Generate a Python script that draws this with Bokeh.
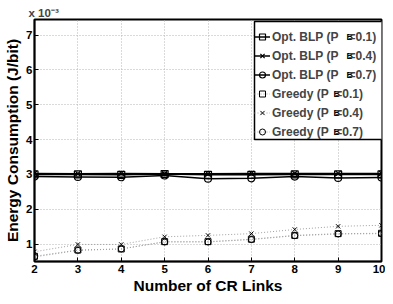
from bokeh.plotting import figure
from bokeh.models import Legend, LegendItem, Label, FixedTicker, Range1d, BoxAnnotation
from bokeh.embed import file_html
from bokeh.resources import INLINE

x_links = [2, 3, 4, 5, 6, 7, 8, 9, 10]
opt_01 = [3.00, 3.00, 2.99, 3.01, 2.99, 2.99, 3.00, 3.00, 3.00]
opt_04 = [3.03, 3.02, 3.03, 3.02, 3.02, 3.03, 3.03, 3.03, 3.03]
opt_07 = [2.94, 2.93, 2.92, 2.97, 2.88, 2.89, 2.94, 2.90, 2.91]
greedy_01 = [0.65, 0.83, 0.86, 1.07, 1.07, 1.14, 1.25, 1.30, 1.31]
greedy_04 = [0.78, 0.99, 0.99, 1.21, 1.25, 1.30, 1.42, 1.51, 1.54]
greedy_07 = [0.63, 0.82, 0.86, 1.06, 1.06, 1.13, 1.24, 1.29, 1.30]
x_ticks = [2, 3, 4, 5, 6, 7, 8, 9, 10]
y_ticks = [1, 2, 3, 4, 5, 6, 7]

FONT = "Liberation Sans"
NB = "\u00a0"
opt_labels = ["Opt. BLP (P" + NB * 3 + "=0.1)", "Opt. BLP (P" + NB * 3 + "=0.4)", "Opt. BLP (P" + NB * 3 + "=0.7)"]
greedy_labels = ["Greedy (P" + NB * 2 + "=0.1)", "Greedy (P" + NB * 2 + "=0.4)", "Greedy (P" + NB * 2 + "=0.7)"]

p = figure(width=385, height=296, output_backend="svg", toolbar_location=None,
           x_range=Range1d(2, 10), y_range=Range1d(0.5, 7.45),
           min_border_left=34, min_border_right=4, min_border_top=19, min_border_bottom=31)
p.background_fill_color = "white"
p.border_fill_color = "white"
p.outline_line_color = "black"
p.outline_line_width = 2

for ax in (p.xaxis[0], p.yaxis[0]):
    ax.major_tick_in = 4
    ax.major_tick_out = 0
    ax.minor_tick_line_color = None
    ax.axis_line_width = 1.5
    ax.major_tick_line_color = "black"
    ax.major_label_text_font = FONT
    ax.major_label_text_font_style = "bold"
    ax.major_label_text_font_size = "11.5px"
    ax.major_label_text_color = "black"
    ax.axis_label_text_font = FONT
    ax.axis_label_text_font_style = "bold"
    ax.axis_label_text_font_size = "15.5px"
    ax.axis_label_text_color = "black"
p.xaxis.ticker = FixedTicker(ticks=x_ticks)
p.yaxis.ticker = FixedTicker(ticks=y_ticks)
p.xaxis.axis_label = "Number of CR Links"
p.yaxis.axis_label = "Energy Consumption (J/bit)"
p.xaxis.major_label_standoff = 3
p.xaxis.axis_label_standoff = 1
p.yaxis.major_label_standoff = 2
p.yaxis.axis_label_standoff = 2

for g in (p.xgrid[0], p.ygrid[0]):
    g.grid_line_color = "#b4b4b4"
    g.grid_line_dash = "1 2"
    g.grid_line_width = 1

items = []
markers = ["square", "x", "circle"]
for ys, mk, lab in zip([opt_01, opt_04, opt_07], markers, opt_labels):
    r = p.line(x_links, ys, line_color="black", line_width=1.5)
    s = p.scatter(x_links, ys, marker=mk, size=7, fill_color=None, line_color="black", line_width=1.2)
    items.append(LegendItem(label=lab, renderers=[r, s]))
for ys, mk, lab in zip([greedy_01, greedy_04, greedy_07], markers, greedy_labels):
    r = p.line(x_links, ys, line_color="#a0a0a0", line_width=1, line_dash="1 2")
    s = p.scatter(x_links, ys, marker=mk, size=6, fill_color=None, line_color="black", line_width=1)
    items.append(LegendItem(label=lab, renderers=[r, s]))

# white box behind the (transparent) legend
p.add_layout(BoxAnnotation(left=220, right=348, bottom=122, top=240,
                           left_units="screen", right_units="screen",
                           bottom_units="screen", top_units="screen",
                           fill_color="white", fill_alpha=1, line_color="black", line_width=1.5,
                           line_alpha=1))

legend = Legend(items=items, location=(220, 122), padding=4, spacing=4,
                label_height=15, glyph_height=15, glyph_width=16, label_standoff=2,
                label_text_font=FONT, label_text_font_style="bold", label_text_font_size="12px",
                border_line_color=None, background_fill_alpha=0, margin=0)
p.add_layout(legend, "center")

# subscript B labels (frame-relative screen units)
FRAME_BOTTOM = 264
row_centers = [35.5, 54.5, 73.5, 92.5, 111.5, 130.5]
for i, yc in enumerate(row_centers):
    xx = 312 if i < 3 else 299
    p.add_layout(Label(x=xx, y=FRAME_BOTTOM - (yc + 4), x_units="screen", y_units="screen", text="B",
                       text_font=FONT, text_font_style="bold", text_font_size="9px",
                       text_color="black", text_baseline="middle", text_align="left"))

p.title.text = "x 10\u207b\u00b3"
p.title.align = "left"
p.title.offset = -6
p.title.text_font = FONT
p.title.text_font_style = "bold"
p.title.text_font_size = "11.5px"
p.title.standoff = 1

open("out.html", "w").write(file_html(p, INLINE))
